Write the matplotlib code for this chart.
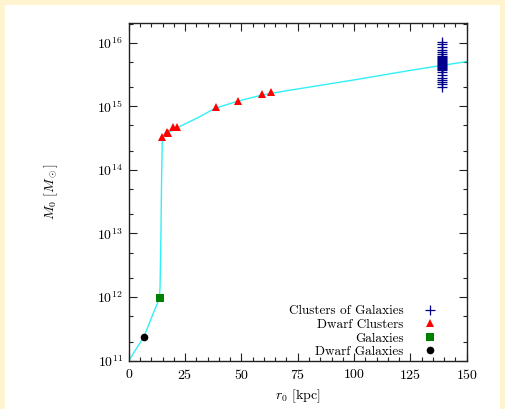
"""
M0 vs r0 figure: galaxies, dwarf clusters and clusters of galaxies
"""
import numpy as np
import matplotlib
matplotlib.use("Agg")
import matplotlib.pyplot as plt
from matplotlib.patches import Rectangle

# ---- data ----
# model curve (cyan)
curve_r = [0, 3.5, 6.8, 10.9, 12.7, 13.6, 13.9, 14.3, 14.6, 14.9, 16.0, 18.0,
           21.0, 26.0, 31.0, 38.3, 48.6, 59.0, 69.4, 100.0, 125.0, 150.0]
curve_M = [1.0e11, 1.57e11, 2.4e11, 5.6e11, 7.9e11, 1.0e12, 1.4e12, 1.0e13,
           8.0e13, 3.0e14, 3.6e14, 3.95e14, 4.5e14, 5.5e14, 6.7e14, 9.3e14,
           1.21e15, 1.5e15, 1.74e15, 2.6e15, 3.67e15, 5.05e15]

# dwarf galaxies
dwarf_gal_r = [6.8]
dwarf_gal_M = [2.38e11]

# galaxies
gal_r = [13.9]
gal_M = [9.6e11]

# dwarf clusters
dwarf_cl_r = [14.9, 16.9, 17.6, 19.5, 21.6, 38.6, 48.7, 59.3, 63.2]
dwarf_cl_M = [3.33e14, 3.98e14, 3.85e14, 4.79e14, 4.68e14, 9.86e14, 1.21e15,
              1.55e15, 1.66e15]

# clusters of galaxies (all at nearly the same r0)
clusters_M = [1.03e16, 9.4e15, 8.6e15, 7.8e15, 7.1e15, 6.6e15, 6.2e15, 5.9e15,
              5.7e15, 5.5e15, 5.35e15, 5.1e15, 4.97e15, 4.8e15, 4.6e15,
              4.45e15, 4.3e15, 4.15e15, 4.0e15, 3.85e15, 3.7e15, 3.46e15,
              3.1e15, 2.8e15, 2.6e15, 2.4e15, 2.24e15, 1.98e15]
clusters_r = [139.0] * len(clusters_M)

xticks = [0, 25, 50, 75, 100, 125, 150]

# ---- style ----
plt.rcParams["font.family"] = "serif"
plt.rcParams["font.serif"] = ["cmr10"]
plt.rcParams["mathtext.fontset"] = "cm"
plt.rcParams["axes.formatter.use_mathtext"] = True
plt.rcParams["axes.unicode_minus"] = False

fig = plt.figure(figsize=(5.05, 4.09), dpi=100)
fig.patch.set_facecolor("#fff4cf")
# white page with a thin yellow margin at the top / left / right
fig.patches.append(Rectangle((5 / 505, 0), 495 / 505, 404 / 409,
                             transform=fig.transFigure, facecolor="white",
                             edgecolor="none", zorder=-10))

ax = fig.add_axes([0.2549, 0.1181, 0.6693, 0.825])
ax.set_facecolor("white")

ax.plot(curve_r, curve_M, color="#30f0f8", lw=1.0, zorder=2)
ax.plot(clusters_r, clusters_M, ls="none", marker="+", ms=6.5, mew=0.9,
        color="#00008c", label="Clusters of Galaxies", zorder=3)
ax.plot(dwarf_cl_r, dwarf_cl_M, ls="none", marker="^", ms=5.5, mew=0,
        color="#ff0000", label="Dwarf Clusters", zorder=3)
ax.plot(gal_r, gal_M, ls="none", marker="s", ms=6.0, mew=0,
        color="#008000", label="Galaxies", zorder=3)
ax.plot(dwarf_gal_r, dwarf_gal_M, ls="none", marker="o", ms=5.5, mew=0,
        color="black", label="Dwarf Galaxies", zorder=3)

ax.set_yscale("log")
ax.set_xlim(0, 150)
ax.set_ylim(1e11, 2.02e16)
ax.set_xticks(xticks)
ax.set_xticks(np.arange(0, 151, 5), minor=True)
ax.yaxis.set_major_locator(matplotlib.ticker.LogLocator(base=10, numticks=20))
ax.yaxis.set_minor_locator(matplotlib.ticker.LogLocator(base=10, subs=[2, 5], numticks=20))
ax.yaxis.set_minor_formatter(matplotlib.ticker.NullFormatter())

ax.tick_params(which="both", direction="in", top=True, right=True,
               labelsize=10, color="#222222")
ax.tick_params(which="major", length=5.5, width=0.8)
ax.tick_params(which="minor", length=3.2, width=0.8)
ax.tick_params(axis="x", pad=5)
ax.tick_params(axis="y", pad=4)
for sp in ax.spines.values():
    sp.set_linewidth(1.0)
    sp.set_color("#222222")

ax.set_xlabel(r"$r_0$ [kpc]", fontsize=10)
ax.set_ylabel(r"$M_0\ [M_\odot]$", fontsize=10)
ax.xaxis.set_label_coords(0.5, -0.078)
ax.yaxis.set_label_coords(-0.204, 0.5)

leg = ax.legend(loc="lower right", bbox_to_anchor=(0.92, 0.0), frameon=False,
                markerfirst=False, fontsize=9.5, handlelength=1.0,
                handletextpad=1.55, labelspacing=0.1, borderpad=0.2,
                borderaxespad=0.0)

fig.savefig("out.png", dpi=100, facecolor=fig.get_facecolor())
